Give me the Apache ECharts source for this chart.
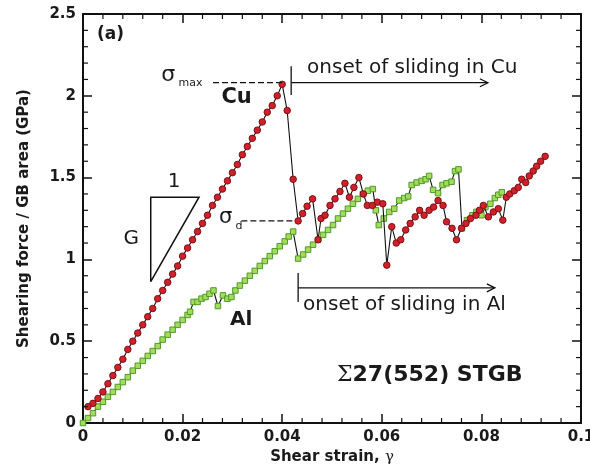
<!DOCTYPE html>
<html><head><meta charset="utf-8">
<script src="https://cdn.jsdelivr.net/npm/echarts@6/dist/echarts.min.js"></script>
<style>html,body{margin:0;padding:0;background:#fff}#c{width:590px;height:472px}</style>
</head><body><div id="c"></div>
<script>
// ---- data ----
const cuStrain = [0.001,0.002,0.003,0.004,0.005,0.006,0.007,0.008,0.009,0.010,
  0.011,0.012,0.013,0.014,0.015,0.016,0.017,0.018,0.019,0.020,
  0.021,0.022,0.023,0.024,0.025,0.026,0.027,0.028,0.029,0.030,
  0.031,0.032,0.033,0.034,0.035,0.036,0.037,0.038,0.039,0.040,
  0.0410,0.0422,0.0432,0.0441,0.0450,0.0461,0.0472,0.0478,0.0486,0.0496,
  0.0506,0.0516,0.0526,0.0535,0.0544,0.0554,0.0563,0.0571,0.0581,0.0591,
  0.0602,0.0610,0.0620,0.0629,0.0638,0.0648,0.0657,0.0667,0.0676,0.0685,
  0.0695,0.0704,0.0713,0.0723,0.0730,0.0741,0.0750,0.0760,0.0769,0.0778,
  0.0789,0.0796,0.0804,0.0814,0.0824,0.0834,0.0843,0.0850,0.0857,0.0866,
  0.0874,0.0881,0.0889,0.0896,0.0904,0.0911,0.0919,0.0928];
const cuStress = [0.10,0.12,0.15,0.19,0.24,0.29,0.34,0.39,0.45,0.50,
  0.55,0.60,0.65,0.70,0.76,0.81,0.86,0.91,0.96,1.02,
  1.07,1.12,1.17,1.22,1.27,1.33,1.38,1.43,1.48,1.53,
  1.58,1.64,1.69,1.74,1.79,1.84,1.90,1.94,2.00,2.07,
  1.91,1.49,1.235,1.28,1.325,1.37,1.12,1.25,1.27,1.33,
  1.37,1.415,1.465,1.38,1.44,1.50,1.40,1.33,1.33,1.35,
  1.34,0.965,1.20,1.10,1.12,1.18,1.22,1.26,1.30,1.27,
  1.30,1.32,1.36,1.33,1.23,1.19,1.12,1.19,1.22,1.25,
  1.27,1.30,1.33,1.26,1.29,1.31,1.24,1.38,1.40,1.42,
  1.44,1.49,1.47,1.51,1.54,1.57,1.60,1.63];
const alStrain = [0,0.001,0.002,0.003,0.004,0.005,0.006,0.007,0.008,0.009,
  0.010,0.011,0.012,0.013,0.014,0.015,0.016,0.017,0.018,0.019,
  0.020,0.021,0.0215,0.0222,0.0230,0.0238,0.0246,0.0254,0.0262,0.0271,
  0.0281,0.0290,0.0298,0.0306,0.0315,0.0325,0.0335,0.0345,0.0355,0.0365,
  0.0375,0.0385,0.0395,0.0405,0.0413,0.0422,0.0432,0.0442,0.0452,0.0462,
  0.0472,0.0482,0.0492,0.0502,0.0512,0.0522,0.0532,0.0542,0.0552,0.0562,
  0.0572,0.0582,0.0588,0.0594,0.0604,0.0615,0.0625,0.0635,0.0645,0.0653,
  0.0660,0.0670,0.0680,0.0688,0.0695,0.0703,0.0713,0.0722,0.0730,0.0740,
  0.0747,0.0754,0.0761,0.0771,0.0782,0.0790,0.0800,0.0808,0.0818,0.0827,
  0.0834,0.0841];
const alStress = [0,0.03,0.06,0.10,0.13,0.16,0.19,0.22,0.25,0.28,
  0.32,0.35,0.38,0.41,0.44,0.47,0.51,0.54,0.57,0.60,
  0.63,0.66,0.68,0.74,0.74,0.76,0.77,0.79,0.81,0.715,
  0.78,0.76,0.77,0.81,0.84,0.87,0.90,0.93,0.96,0.99,
  1.02,1.05,1.08,1.11,1.14,1.17,1.005,1.03,1.06,1.09,
  1.12,1.15,1.18,1.21,1.25,1.28,1.31,1.34,1.37,1.40,
  1.42,1.43,1.30,1.21,1.25,1.29,1.31,1.36,1.375,1.385,
  1.455,1.47,1.48,1.49,1.51,1.425,1.405,1.455,1.465,1.475,
  1.54,1.55,1.19,1.24,1.27,1.29,1.27,1.32,1.34,1.375,
  1.395,1.41];
const xTickValues = [0,0.02,0.04,0.06,0.08,0.1];
const yTickValues = [0,0.5,1,1.5,2,2.5];
const minorPerMajor = 5;

const xMin = xTickValues[0], xMax = xTickValues[xTickValues.length-1];
const yMin = yTickValues[0], yMax = yTickValues[yTickValues.length-1];
const xStep = xTickValues[1]-xTickValues[0], yStep = yTickValues[1]-yTickValues[0];

const chart = echarts.init(document.getElementById('c'), null, {renderer:'canvas'});
const labelFont = {fontFamily:'"DejaVu Sans", sans-serif', fontWeight:'bold', fontSize:15, color:'#1a1a1a'};
function axisCommon(showLabel){
  return {
    axisLine:{show:true, onZero:false, lineStyle:{color:'#111', width:2}},
    axisTick:{show:true, inside:true, length:9, lineStyle:{color:'#111', width:1.5}},
    minorTick:{show:false},
    splitLine:{show:false},
    axisLabel:Object.assign({show:showLabel, margin:7, hideOverlap:false}, labelFont)
  };
}
const zip = (a,b)=>a.map((v,i)=>[v,b[i]]);

chart.setOption({
  animation:false,
  backgroundColor:'#fff',
  grid:{left:83, right:9, top:14, bottom:49, containLabel:false, outerBoundsMode:'none'},
  xAxis:[
    Object.assign({type:'value', min:xMin, max:xMax, interval:xStep, position:'bottom',
      name:'{b|Shear strain, }{g|γ}', nameLocation:'middle', nameGap:18,
      nameTextStyle:{rich:{b:{fontFamily:'"DejaVu Sans", sans-serif', fontWeight:'bold', fontSize:15, color:'#1a1a1a'},
                           g:{fontFamily:'"DejaVu Serif", serif', fontSize:15, color:'#1a1a1a'}}}}, axisCommon(true)),
    Object.assign({type:'value', min:xMin, max:xMax, interval:xStep, position:'top'}, axisCommon(false))
  ],
  yAxis:[
    Object.assign({type:'value', min:yMin, max:yMax, interval:yStep, position:'left',
      name:'Shearing force / GB area (GPa)', nameLocation:'middle', nameGap:51,
      nameTextStyle:{fontFamily:'"DejaVu Sans", sans-serif', fontWeight:'bold', fontSize:15, color:'#1a1a1a'}}, axisCommon(true)),
    Object.assign({type:'value', min:yMin, max:yMax, interval:yStep, position:'right'}, axisCommon(false))
  ],
  series:[
    {name:'Al', type:'line', data:zip(alStrain, alStress), symbol:'rect', symbolSize:5.5, showAllSymbol:true,
     lineStyle:{color:'#111', width:1.1}, itemStyle:{color:'#a3dc5a', borderColor:'#4e9a2a', borderWidth:1}, z:2},
    {name:'Cu', type:'line', data:zip(cuStrain, cuStress), symbol:'circle', symbolSize:6.5, showAllSymbol:true,
     lineStyle:{color:'#111', width:1.1}, itemStyle:{color:'#d0212b', borderColor:'#7d1015', borderWidth:1}, z:3}
  ]
});

function P(x,y){ return chart.convertToPixel({xAxisIndex:0, yAxisIndex:0}, [x,y]); }
const g = [];
function line(a,b,dash,w){ g.push({type:'line', shape:{x1:a[0],y1:a[1],x2:b[0],y2:b[1]}, style:{stroke:'#111', lineWidth:w||1.2, lineDash:dash||null}, z:10}); }
function text(p, t, font, align, rich){ g.push({type:'text', x:p[0], y:p[1], style:{text:t, font:font, align:align||'left', verticalAlign:'middle', fill:'#1a1a1a', rich:rich}, z:10}); }
function arrow(from, to){
  line(from, to, null, 1.3);
  g.push({type:'polyline', shape:{points:[[to[0]-8,to[1]-4],[to[0],to[1]],[to[0]-8,to[1]+4]]}, style:{stroke:'#111', lineWidth:1.3, fill:null}, z:10});
}
// minor ticks (inward, all four sides)
const mLen = 5;
const xMinor = xStep/minorPerMajor, yMinor = yStep/minorPerMajor;
for (let i=1; i<Math.round((xMax-xMin)/xMinor); i++){
  if (i % minorPerMajor === 0) continue;
  const b = P(xMin+i*xMinor, yMin), t = P(xMin+i*xMinor, yMax);
  line(b, [b[0], b[1]-mLen], null, 1.2);
  line(t, [t[0], t[1]+mLen], null, 1.2);
}
for (let i=1; i<Math.round((yMax-yMin)/yMinor); i++){
  if (i % minorPerMajor === 0) continue;
  const l = P(xMin, yMin+i*yMinor), r = P(xMax, yMin+i*yMinor);
  line(l, [l[0]+mLen, l[1]], null, 1.2);
  line(r, [r[0]-mLen, r[1]], null, 1.2);
}
const annFont = '20px "DejaVu Sans", sans-serif';
// (a)
text(P(0.0028,2.373), '(a)', 'bold 17px "DejaVu Sans", sans-serif');
// sigma max
text(P(0.0157,2.125), 'σ', '22px "DejaVu Sans", sans-serif');
text(P(0.0192,2.075), 'max', '11px "DejaVu Sans", sans-serif');
line(P(0.0261,2.08), P(0.0400,2.08), [6,3], 1.2);
text(P(0.0278,1.988), 'Cu', 'bold 21px "DejaVu Sans", sans-serif');
// onset Cu
line(P(0.0418,2.18), P(0.0418,2.005), null, 1.3);
arrow(P(0.0418,2.08), P(0.0813,2.08));
text(P(0.0450,2.17), 'onset of sliding in Cu', annFont);
// sigma d
text(P(0.0273,1.255), 'σ', '21px "DejaVu Sans", sans-serif');
text(P(0.0306,1.205), 'd', '11px "DejaVu Sans", sans-serif');
line(P(0.0318,1.235), P(0.0425,1.235), [6,3], 1.2);
// onset Al
line(P(0.0432,0.917), P(0.0432,0.74), null, 1.3);
arrow(P(0.0432,0.826), P(0.0827,0.826));
text(P(0.0442,0.72), 'onset of sliding in Al', annFont);
// Al label
text(P(0.0295,0.63), 'Al', 'bold 20px "DejaVu Sans", sans-serif');
// triangle G / 1
const t1 = P(0.0136,1.38), t2 = P(0.0233,1.38), t3 = P(0.0136,0.864);
g.push({type:'polyline', shape:{points:[t3,t1,t2,t3]}, style:{stroke:'#111', lineWidth:1.5, fill:null}, z:10});
text(P(0.0097,1.125), 'G', '20px "DejaVu Sans", sans-serif', 'center');
text(P(0.0183,1.475), '1', '20px "DejaVu Sans", sans-serif', 'center');
// boundary label
text(P(0.0510,0.29), '{s|Σ}{b|27(552) STGB}', null, 'left',
  {s:{font:'22px "DejaVu Serif", serif', fill:'#1a1a1a'}, b:{font:'bold 22px "DejaVu Sans", sans-serif', fill:'#1a1a1a'}});
chart.setOption({graphic:g});
</script>
</body></html>
